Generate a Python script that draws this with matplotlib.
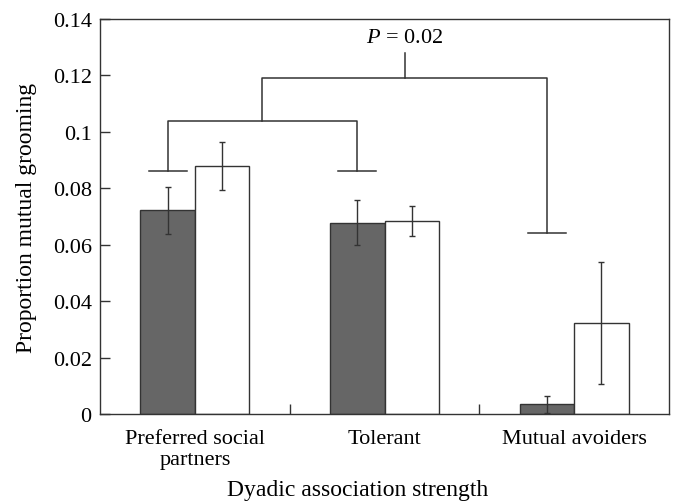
import matplotlib.pyplot as plt
import numpy as np

# --- data ---
categories = ["Preferred social\npartners", "Tolerant", "Mutual avoiders"]
dark_vals = [0.0722, 0.0678, 0.0035]
dark_err = [0.0084, 0.0080, 0.0030]
white_vals = [0.0880, 0.0683, 0.0322]
white_err = [0.0085, 0.0053, 0.0217]

# bracket levels for the significance annotation
cap_levels = [0.086, 0.086, 0.064]
pair_level = 0.1037
top_level = 0.1192
p_stem_top = 0.1278
p_text = "$\\it{P}$ = 0.02"

plt.rcParams["font.family"] = ["Liberation Serif", "DejaVu Serif"]
plt.rcParams["font.size"] = 16
plt.rcParams["mathtext.fontset"] = "custom"
plt.rcParams["mathtext.it"] = "Liberation Serif:italic"

fig = plt.figure(figsize=(6.76, 5.02), dpi=100)
ax = fig.add_axes([0.148, 0.1733, 0.8416, 0.7867])

x = np.arange(len(categories)) + 0.5
w = 0.287
edge = "#333333"
ax.bar(x - w / 2, dark_vals, w, color="#666666", edgecolor=edge, linewidth=1.0)
ax.bar(x + w / 2, white_vals, w, color="white", edgecolor=edge, linewidth=1.0)
ax.errorbar(x - w / 2, dark_vals, yerr=dark_err, fmt="none", ecolor=edge,
            elinewidth=1.0, capsize=2.5, capthick=1.0)
ax.errorbar(x + w / 2, white_vals, yerr=white_err, fmt="none", ecolor=edge,
            elinewidth=1.0, capsize=2.5, capthick=1.0)

# --- significance brackets ---
lw = 1.1
cw = 0.1
cx = x - w / 2
for xc, lev in zip(cx, cap_levels):
    ax.plot([xc - cw, xc + cw], [lev, lev], color=edge, lw=lw)
ax.plot([cx[0], cx[0], cx[1], cx[1]],
        [cap_levels[0], pair_level, pair_level, cap_levels[1]], color=edge, lw=lw)
mid = (cx[0] + cx[1]) / 2
ax.plot([mid, mid, cx[2], cx[2]],
        [pair_level, top_level, top_level, cap_levels[2]], color=edge, lw=lw)
mid2 = (mid + cx[2]) / 2
ax.plot([mid2, mid2], [top_level, p_stem_top], color=edge, lw=lw)
ax.text(mid2, p_stem_top + 0.0022, p_text, ha="center", va="bottom", fontsize=16)

ax.set_xlim(0, 3)
ax.set_ylim(0, 0.14)
ax.set_yticks(np.arange(0, 0.141, 0.02))
ax.set_yticklabels(["0", "0.02", "0.04", "0.06", "0.08", "0.1", "0.12", "0.14"])
ax.set_xticks(x)
ax.set_xticklabels(categories, linespacing=1.15)
ax.set_xticks([1, 2], minor=True)
ax.tick_params(axis="x", which="major", length=0, pad=11)
ax.tick_params(axis="x", which="minor", direction="in", length=7, width=1, color=edge)
ax.tick_params(axis="y", direction="in", length=7, width=1, color=edge, pad=6)
for s in ax.spines.values():
    s.set_color(edge)
    s.set_linewidth(1.0)

ax.set_ylabel("Proportion mutual grooming", fontsize=17)
ax.yaxis.set_label_coords(-0.11, 0.5)
ax.set_xlabel("Dyadic association strength", fontsize=17)
ax.xaxis.set_label_coords(0.452, -0.165)

fig.savefig("out.png", dpi=100)
